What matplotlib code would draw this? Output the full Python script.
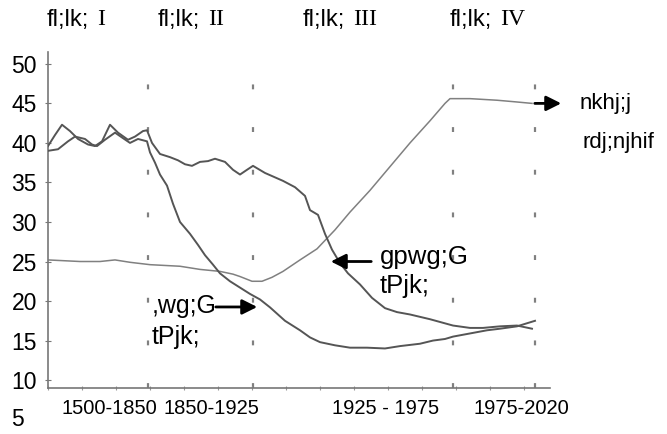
import matplotlib
matplotlib.use('Agg')
import matplotlib.pyplot as plt

plt.rcParams['font.family'] = ['Liberation Sans', 'DejaVu Sans']

# x is a horizontal position along the time axis (0 = start of 1500, 502 = 2020)
# period boundaries and labels
bounds = [100, 205, 405, 487]
period_labels = ['1500-1850', '1850-1925', '1925 - 1975', '1975-2020']
period_label_x = [61, 163, 338, 473]
phase_word = 'fl;lk;'
phase_nums = ['I', 'II', 'III', 'IV']
phase_x = [-1, 110, 255, 402]
y_ticks = [10, 15, 20, 25, 30, 35, 40, 45, 50]

# curve A: wavy high plateau, late decline (death rate)
a_x = [0, 7, 14, 22, 30, 40, 47, 54, 62, 70, 80, 87, 95, 99, 104, 112, 122, 130,
       137, 144, 152, 160, 167, 177, 185, 192, 199, 205, 217, 235, 247, 257, 262,
       270, 277, 284, 292, 300, 312, 324, 337, 349, 362, 382, 405, 422, 435, 452,
       469, 484]
a_y = [39.6, 41.0, 42.3, 41.5, 40.5, 39.8, 39.6, 40.2, 42.3, 41.3, 40.4, 40.8,
       41.5, 41.6, 40.0, 38.6, 38.2, 37.8, 37.3, 37.1, 37.6, 37.7, 38.0, 37.6,
       36.6, 36.0, 36.6, 37.1, 36.2, 35.2, 34.4, 33.3, 31.5, 30.9, 28.5, 26.5,
       24.8, 23.5, 22.1, 20.4, 19.1, 18.6, 18.3, 17.7, 16.9, 16.6, 16.6, 16.8,
       16.9, 16.5]

# curve B: wavy start, steep drop after 1850 (birth rate)
b_x = [0, 10, 20, 27, 37, 44, 49, 57, 67, 75, 82, 90, 99, 102, 107, 112, 119,
       125, 132, 142, 150, 157, 165, 172, 182, 192, 202, 212, 222, 237, 252, 262,
       272, 287, 302, 319, 337, 352, 372, 385, 397, 405, 422, 439, 452, 469, 487]
b_y = [39.0, 39.2, 40.2, 40.8, 40.5, 39.8, 39.6, 40.4, 41.3, 40.6, 40.0, 40.5,
       40.2, 38.8, 37.5, 36.0, 34.6, 32.3, 30.0, 28.5, 27.1, 25.8, 24.6, 23.5,
       22.5, 21.7, 20.9, 20.2, 19.2, 17.5, 16.3, 15.4, 14.8, 14.4, 14.1, 14.1,
       14.0, 14.3, 14.6, 15.0, 15.2, 15.5, 15.9, 16.3, 16.5, 16.8, 17.5]

# curve C: flat, dip, then rise to a plateau (population)
c_x = [0, 32, 52, 67, 82, 102, 132, 152, 172, 185, 192, 204, 214, 224, 235, 252,
       269, 287, 302, 322, 342, 362, 382, 397, 402, 422, 449, 467, 484]
c_y = [25.2, 25.0, 25.0, 25.2, 24.9, 24.6, 24.4, 24.0, 23.75, 23.4, 23.1, 22.5,
       22.5, 23.0, 23.75, 25.2, 26.6, 29.0, 31.25, 34.0, 37.0, 40.0, 42.8, 45.0,
       45.6, 45.6, 45.4, 45.2, 45.0]

fig = plt.figure(figsize=(6.67, 4.34), dpi=100)
ax = fig.add_axes([48 / 667, (434 - 388) / 434, 502 / 667, (388 - 52) / 434])
ax.set_xlim(0, 502)
ax.set_ylim(9, 51.5)

for b in bounds:
    ax.axvline(b, color='#808080', lw=1.6, dashes=(2.2, 17), zorder=1)

ax.plot(c_x, c_y, color='#808080', lw=1.1, zorder=2)
ax.plot(a_x, a_y, color='#555555', lw=1.4, zorder=3)
ax.plot(b_x, b_y, color='#555555', lw=1.4, zorder=3)

for s in ['top', 'right']:
    ax.spines[s].set_visible(False)
for s in ['left', 'bottom']:
    ax.spines[s].set_color('#777777')
    ax.spines[s].set_linewidth(1.2)

ax.set_yticks(y_ticks)
ax.set_yticklabels([str(t) for t in y_ticks], fontsize=16.5)
ax.tick_params(axis='y', direction='inout', length=4, color='#777777', pad=6)
ax.set_xticks(range(0, 502, 34))
ax.set_xticklabels([])
ax.tick_params(axis='x', direction='inout', length=3, color='#999999')

# extra "5" label below the axis
ax.text(-24, 5.0, '5', fontsize=16.5, ha='right', va='center', clip_on=False)

for lx, lab in zip(period_label_x, period_labels):
    ax.text(lx, 6.4, lab, fontsize=14.5, ha='center', va='center', clip_on=False)

for px, num in zip(phase_x, phase_nums):
    ax.text(px, 55.6, phase_word, fontsize=17, ha='left', va='center', clip_on=False)
    ax.text(px + 50, 55.6, num, fontsize=17, ha='left', va='center',
            family='Liberation Serif', clip_on=False)

arrow = dict(arrowstyle='-|>,head_length=0.9,head_width=0.45', color='black', lw=2)
ax.annotate('', xy=(212, 19.25), xytext=(165, 19.25), arrowprops=arrow,
            annotation_clip=False)
ax.annotate('', xy=(280, 25), xytext=(326, 25), arrowprops=arrow,
            annotation_clip=False)
ax.annotate('', xy=(516, 45), xytext=(484, 45), arrowprops=arrow,
            annotation_clip=False)

ax.text(104, 19.4, ',wg;G', fontsize=18, ha='left', va='center')
ax.text(104, 15.4, 'tPjk;', fontsize=18, ha='left', va='center')
ax.text(332, 25.6, 'gpwg;G', fontsize=18.5, ha='left', va='center')
ax.text(332, 21.9, 'tPjk;', fontsize=18.5, ha='left', va='center')
ax.text(532, 45, 'nkhj;j', fontsize=16, ha='left', va='center', clip_on=False)
ax.text(535, 40, 'rdj;njhif', fontsize=16, ha='left', va='center', clip_on=False)

fig.savefig('out.png', dpi=100)
